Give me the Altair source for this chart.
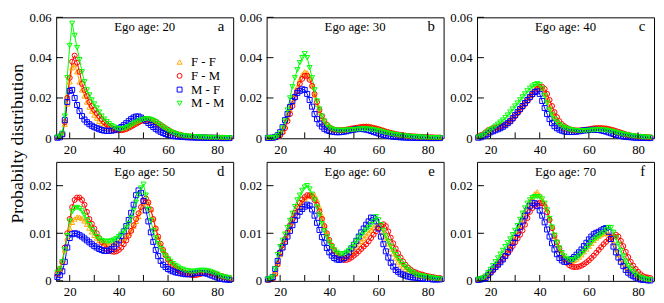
import altair as alt
import pandas as pd

# ---------------- data (probability values in units of 0.001) ----------------
AGE_START = 15
pairs = ["F - F", "F - M", "M - F", "M - M"]
colors = ["#ffa500", "#ff0000", "#0000ff", "#00ff00"]
shapes = ["triangle-up", "circle", "square", "triangle-down"]
ego_ages = [20, 30, 40, 50, 60, 70]
panel_letters = ["a", "b", "c", "d", "e", "f"]
x_tick_values = [20, 30, 40, 50, 60, 70, 80]
x_label_values = [20, 40, 60, 80]
top_y_ticks = [0, 0.02, 0.04, 0.06]
bottom_y_ticks = [0, 0.01, 0.02]
y_title = "Probabilty distribution"

a_ff = [0.5, 1, 2, 7, 17, 28, 35, 36.5, 33, 28,
        24, 21, 18, 15.5, 13.5, 11.5, 10, 8.5, 7.3, 6.3,
        5.5, 4.8, 4.3, 4.0, 3.9, 4.0, 4.2, 4.6, 5.1, 5.7,
        6.4, 7.0, 7.7, 8.3, 8.8, 9.1, 9.2, 9.0, 8.6, 8.0,
        7.3, 6.5, 5.7, 4.9, 4.2, 3.6, 3.0, 2.5, 2.1, 1.8,
        1.5, 1.3, 1.1, 1.0, 0.9, 0.8, 0.7, 0.6, 0.6, 0.5,
        0.5, 0.4, 0.4, 0.4, 0.3, 0.3, 0.3, 0.3, 0.2, 0.2, 0.2]
a_fm = [0.5, 1, 2, 8, 20, 30, 38, 41, 37.5, 33,
        27, 24, 21, 18, 16, 14, 12.5, 11, 9.5, 8,
        7, 6, 5.2, 4.6, 4.2, 4.0, 4.0, 4.2, 4.6, 5.2,
        5.8, 6.5, 7.2, 7.9, 8.5, 9.0, 9.3, 9.4, 9.2, 8.8,
        8.2, 7.4, 6.6, 5.8, 5.0, 4.2, 3.5, 2.9, 2.4, 2.0,
        1.7, 1.4, 1.2, 1.0, 0.9, 0.8, 0.7, 0.6, 0.6, 0.5,
        0.5, 0.4, 0.4, 0.4, 0.3, 0.3, 0.3, 0.3, 0.2, 0.2, 0.2]
a_mf = [0.3, 0.5, 2, 9, 18, 23.5, 24, 20, 16.5, 13.5,
        11, 9.3, 8, 7, 6.2, 5.5, 5.0, 4.5, 4.1, 3.8,
        3.7, 3.7, 3.8, 4.0, 4.4, 4.9, 5.6, 6.5, 7.5, 8.5,
        9.5, 10.3, 10.8, 10.8, 10.3, 9.5, 8.6, 7.6, 6.6, 5.6,
        4.7, 3.9, 3.2, 2.6, 2.1, 1.7, 1.4, 1.2, 1.0, 0.9,
        0.8, 0.7, 0.6, 0.5, 0.5, 0.4, 0.4, 0.3, 0.3, 0.3,
        0.3, 0.2, 0.2, 0.2, 0.2, 0.2, 0.1, 0.1, 0.1, 0.1, 0.1]
a_mm = [0.5, 1, 2.5, 11, 30, 46, 57, 51, 45, 39,
        33, 28, 24, 21.5, 19, 17, 15, 13, 11, 9.5,
        8.3, 7.2, 6.3, 5.6, 5.0, 4.6, 4.6, 4.8, 5.2, 5.8,
        6.5, 7.2, 7.9, 8.5, 9.0, 9.4, 9.6, 9.6, 9.3, 8.8,
        8.1, 7.3, 6.4, 5.5, 4.7, 3.9, 3.3, 2.7, 2.2, 1.8,
        1.5, 1.3, 1.1, 1.0, 0.9, 0.8, 0.7, 0.6, 0.6, 0.5,
        0.5, 0.4, 0.4, 0.4, 0.3, 0.3, 0.3, 0.3, 0.2, 0.2, 0.2]

b_ff = [0.2, 0.2, 0.3, 0.5, 1.0, 2.0, 3.5, 6, 10, 14,
        18, 22, 25.5, 29, 31.5, 33, 32.5, 30, 26, 21.5,
        17, 13, 10, 7.5, 6, 5, 4.5, 4.2, 4.1, 4.2,
        4.3, 4.5, 4.7, 4.9, 5.1, 5.3, 5.5, 5.7, 5.9, 6.1,
        6.2, 6.1, 5.9, 5.6, 5.3, 5.0, 4.6, 4.2, 3.8, 3.4,
        3.0, 2.6, 2.3, 2.0, 1.7, 1.5, 1.3, 1.1, 1.0, 0.9,
        0.8, 0.7, 0.6, 0.5, 0.5, 0.4, 0.4, 0.3, 0.3, 0.3, 0.2]
b_fm = [0.2, 0.2, 0.3, 0.4, 0.8, 1.5, 3, 5, 8.5, 12,
        16, 20, 23.5, 27, 29.5, 31, 31, 29, 26, 22,
        18, 14, 11, 8.5, 6.7, 5.5, 4.8, 4.3, 4.1, 4.0,
        4.0, 4.1, 4.3, 4.5, 4.8, 5.0, 5.2, 5.4, 5.6, 5.7,
        5.7, 5.6, 5.4, 5.1, 4.8, 4.5, 4.1, 3.7, 3.3, 3.0,
        2.7, 2.4, 2.1, 1.9, 1.7, 1.5, 1.3, 1.2, 1.1, 1.0,
        0.9, 0.8, 0.7, 0.7, 0.6, 0.6, 0.5, 0.5, 0.4, 0.4, 0.4]
b_mf = [0.2, 0.2, 0.3, 0.6, 1.5, 3, 5.5, 9, 12, 15.5,
        18.5, 20.5, 22.5, 23.5, 24.3, 24, 22, 19, 15.7, 12,
        9.5, 7.3, 5.8, 4.7, 4.0, 3.6, 3.3, 3.1, 3.0, 3.0,
        3.1, 3.3, 3.5, 3.8, 4.1, 4.3, 4.5, 4.6, 4.6, 4.5,
        4.3, 4.0, 3.6, 3.2, 2.8, 2.4, 2.0, 1.7, 1.4, 1.2,
        1.0, 0.8, 0.7, 0.6, 0.5, 0.4, 0.4, 0.3, 0.3, 0.3,
        0.2, 0.2, 0.2, 0.2, 0.2, 0.1, 0.1, 0.1, 0.1, 0.1, 0.1]
b_mm = [0.2, 0.2, 0.3, 0.5, 1.2, 2.5, 5, 8.5, 14, 20,
        25.5, 30, 34, 37.5, 40, 42, 40, 35, 30, 24,
        18.5, 14.5, 11, 8.5, 6.5, 5.3, 4.6, 4.2, 4.0, 3.9,
        3.9, 3.9, 4.0, 4.1, 4.2, 4.3, 4.4, 4.5, 4.6, 4.6,
        4.6, 4.5, 4.4, 4.2, 4.0, 3.7, 3.4, 3.1, 2.8, 2.5,
        2.2, 2.0, 1.8, 1.6, 1.4, 1.2, 1.1, 1.0, 0.9, 0.8,
        0.7, 0.6, 0.5, 0.5, 0.4, 0.4, 0.3, 0.3, 0.3, 0.2, 0.2]

c_ff = [0.5, 0.8, 1.2, 1.8, 2.6, 3.5, 4.2, 4.8, 5.3, 5.9,
        6.5, 7.3, 8.2, 9.3, 10.6, 12, 13.5, 15, 16.6, 18.3,
        20, 21.5, 23, 24.3, 25.5, 26, 25, 22.5, 19, 15.5,
        12.5, 10, 8, 6.6, 5.7, 5.0, 4.6, 4.3, 4.1, 4.0,
        4.0, 4.1, 4.2, 4.4, 4.6, 4.8, 5.0, 5.2, 5.4, 5.5,
        5.5, 5.4, 5.2, 4.9, 4.5, 4.1, 3.6, 3.1, 2.7, 2.3,
        2.0, 1.7, 1.4, 1.2, 1.0, 0.9, 0.8, 0.7, 0.6, 0.5, 0.5]
c_fm = [1, 1.5, 2, 3, 4, 4.5, 5, 5.3, 5.5, 5.8,
        6.2, 6.8, 7.5, 8.5, 9.5, 11, 12.5, 14, 15.5, 17,
        18.5, 20, 21.5, 23, 24.5, 25.5, 25.5, 24.5, 22, 19,
        16, 13, 10.5, 8.5, 7, 6, 5.2, 4.6, 4.2, 4.0,
        3.9, 3.9, 4.0, 4.1, 4.3, 4.5, 4.7, 4.9, 5.0, 5.0,
        5.0, 4.9, 4.8, 4.6, 4.3, 4.0, 3.6, 3.2, 2.8, 2.4,
        2.0, 1.7, 1.4, 1.2, 1.0, 0.9, 0.8, 0.7, 0.6, 0.5, 0.5]
c_mf = [0.3, 0.5, 1, 1.5, 2.2, 3, 3.5, 4, 4.5, 5,
        5.7, 6.5, 7.5, 8.5, 10, 11.5, 13, 14.5, 16, 17.5,
        19, 20.5, 22, 23, 23.3, 22, 18.5, 15, 12, 9.5,
        7.5, 6, 5, 4.3, 3.8, 3.4, 3.2, 3.1, 3.1, 3.2,
        3.3, 3.5, 3.7, 3.9, 4.0, 4.1, 4.2, 4.2, 4.2, 4.1,
        3.9, 3.6, 3.3, 2.9, 2.5, 2.1, 1.7, 1.4, 1.1, 0.9,
        0.7, 0.6, 0.5, 0.4, 0.3, 0.3, 0.2, 0.2, 0.2, 0.1, 0.1]
c_mm = [0.5, 1, 1.5, 2.5, 3.5, 4.3, 5, 6, 7, 8,
        9, 10.3, 11.5, 13, 14.5, 16, 17.5, 19, 20.5, 22,
        23.5, 24.8, 25.8, 26.6, 27, 26.5, 24.5, 21, 17.5, 14,
        11.5, 9.5, 8, 6.8, 6, 5.3, 4.8, 4.4, 4.1, 3.9,
        3.8, 3.7, 3.7, 3.7, 3.8, 3.9, 4.0, 4.1, 4.2, 4.2,
        4.2, 4.1, 4.0, 3.8, 3.5, 3.2, 2.9, 2.6, 2.3, 2.0,
        1.8, 1.5, 1.3, 1.1, 1.0, 0.8, 0.7, 0.6, 0.5, 0.5, 0.4]

d_ff = [1.5, 2.5, 4, 6.5, 9, 11, 12.3, 13, 13.4, 13.4,
        13.1, 12.6, 11.9, 11.1, 10.3, 9.6, 9.0, 8.5, 8.1, 7.9,
        7.8, 7.7, 7.7, 7.8, 8.0, 8.2, 8.5, 8.9, 9.4, 10,
        10.7, 11.5, 12.5, 13.5, 14.7, 15.7, 16.4, 16.5, 15, 13,
        11, 9.2, 7.7, 6.5, 5.5, 4.7, 4.0, 3.5, 3.0, 2.7,
        2.4, 2.1, 1.9, 1.8, 1.7, 1.6, 1.6, 1.7, 1.8, 1.8,
        1.8, 1.8, 1.7, 1.6, 1.4, 1.2, 1.0, 0.9, 0.7, 0.6, 0.5]
d_fm = [1.5, 2.5, 4, 7, 10, 13, 15.5, 17, 17.5, 17.5,
        17, 16, 14.5, 13, 12, 11, 10, 9, 8.2, 7.3,
        6.7, 6.3, 6.2, 6.1, 6.2, 6.5, 7, 7.7, 8.5, 9.5,
        10.5, 11.7, 13, 14.2, 15.5, 16.8, 17.3, 16.5, 15, 13,
        11, 9.3, 7.8, 6.5, 5.4, 4.5, 3.8, 3.2, 2.8, 2.4,
        2.1, 1.8, 1.6, 1.4, 1.3, 1.2, 1.2, 1.3, 1.4, 1.6,
        1.7, 1.8, 1.8, 1.7, 1.5, 1.3, 1.1, 1.0, 0.8, 0.7, 0.6]
d_mf = [0.8, 1.2, 2, 4, 7, 9, 9.8, 10, 9.9, 9.6,
        9.3, 8.9, 8.5, 8.1, 7.7, 7.3, 7.0, 6.7, 6.5, 6.3,
        6.3, 6.4, 6.7, 7.2, 7.8, 8.5, 9.4, 10.4, 11.5, 12.8,
        14.3, 16, 18, 19, 18.5, 16.8, 14.8, 12.5, 10.2, 8.2,
        6.5, 5.2, 4.2, 3.4, 2.9, 2.5, 2.2, 2.0, 1.8, 1.7,
        1.6, 1.5, 1.4, 1.4, 1.4, 1.5, 1.6, 1.7, 1.7, 1.7,
        1.6, 1.5, 1.3, 1.1, 0.9, 0.7, 0.5, 0.4, 0.3, 0.3, 0.2]
d_mm = [1.8, 2.5, 4, 6.5, 9.5, 12.5, 14.5, 15.2, 15.4, 15.2,
        14.7, 13.8, 12.8, 11.8, 10.8, 10, 9.3, 8.8, 8.5, 8.3,
        8.3, 8.3, 8.4, 8.6, 8.9, 9.3, 9.8, 10.4, 11.1, 12,
        13.2, 14.8, 16.5, 18, 19.5, 20.3, 18, 15, 12.7, 10.5,
        9, 7.8, 6.8, 6, 5.2, 4.6, 4.1, 3.6, 3.2, 2.9,
        2.6, 2.4, 2.2, 2.1, 2.0, 2.0, 2.0, 2.1, 2.2, 2.2,
        2.2, 2.1, 2.0, 1.8, 1.6, 1.4, 1.1, 0.9, 0.8, 0.7, 0.6]

e_ff = [0.2, 0.3, 0.5, 1.5, 3.5, 5.5, 7, 8.3, 9.7, 11,
        12.3, 13.5, 14.7, 15.7, 16.5, 17.2, 17.7, 18, 18.2, 18,
        17, 15.5, 13.7, 11.8, 10, 8.5, 7.3, 6.3, 5.6, 5.2,
        5.0, 5.0, 5.2, 5.5, 6.0, 6.5, 7.1, 7.7, 8.3, 8.9,
        9.5, 10.1, 10.7, 11.2, 11.6, 11.7, 11.2, 10.2, 9.0, 7.8,
        6.7, 5.7, 4.8, 4.0, 3.4, 2.9, 2.4, 2.0, 1.7, 1.5,
        1.3, 1.2, 1.1, 1.0, 0.9, 0.8, 0.7, 0.6, 0.5, 0.5, 0.4]
e_fm = [0.2, 0.3, 0.5, 1.5, 3.5, 6, 7.5, 8.8, 10.2, 11.7,
        13, 14.3, 15.5, 16.4, 17.1, 17.6, 18, 18, 17.7, 17,
        16, 14.6, 13, 11.5, 10, 8.6, 7.4, 6.4, 5.7, 5.1,
        4.7, 4.4, 4.4, 4.6, 4.9, 5.3, 5.7, 6.2, 6.7, 7.2,
        7.7, 8.3, 9, 9.7, 10.4, 11.0, 11.6, 11.9, 11.5, 10.4,
        9.1, 7.9, 6.8, 5.8, 4.9, 4.1, 3.4, 2.8, 2.4, 2.0,
        1.8, 1.6, 1.4, 1.3, 1.1, 1.0, 0.9, 0.8, 0.7, 0.6, 0.6]
e_mf = [0.3, 0.4, 0.8, 2.5, 4.2, 5.8, 7, 8.2, 9.3, 10.5,
        11.7, 12.8, 13.7, 14.5, 15.1, 15.6, 16, 15.8, 15, 13.7,
        12.2, 10.7, 9.2, 8, 6.9, 6, 5.3, 4.8, 4.5, 4.4,
        4.5, 4.8, 5.3, 6.0, 6.8, 7.6, 8.4, 9.3, 10.2, 11,
        11.8, 12.5, 13.3, 13.2, 12.5, 11, 9.3, 7.7, 6.2, 4.9,
        3.8, 3.0, 2.3, 1.9, 1.5, 1.3, 1.1, 0.9, 0.8, 0.7,
        0.7, 0.6, 0.5, 0.5, 0.4, 0.4, 0.4, 0.3, 0.3, 0.3, 0.3]
e_mm = [0.3, 0.5, 0.8, 2.5, 5.5, 7.2, 8.5, 9.8, 11.2, 12.7,
        14.2, 15.6, 17, 18, 19, 19.7, 20, 19.3, 18.2, 17,
        15.5, 13.8, 12, 10.5, 9.2, 8.1, 7.2, 6.5, 6.0, 5.7,
        5.6, 5.7, 6.0, 6.4, 7.0, 7.6, 8.3, 9.0, 9.6, 10.2,
        10.7, 11.2, 11.8, 12.5, 13.5, 12.8, 11.8, 10.6, 9.4, 8.3,
        7.3, 6.4, 5.5, 4.7, 4.0, 3.4, 2.9, 2.4, 2.0, 1.7,
        1.4, 1.2, 1.1, 1.0, 0.9, 0.8, 0.7, 0.6, 0.5, 0.5, 0.4]

f_ff = [0.3, 0.4, 0.6, 0.9, 1.4, 2.0, 2.6, 3.2, 3.8, 4.4,
        5.0, 5.7, 6.5, 7.4, 8.4, 9.4, 10.5, 11.7, 13.0, 14.3,
        15.6, 16.7, 17.6, 18.3, 18.7, 18.0, 17.0, 16.2, 15.0, 13.2,
        11.2, 9.3, 7.7, 6.4, 5.4, 4.7, 4.3, 4.1, 4.1, 4.3,
        4.6, 5.0, 5.5, 6.1, 6.7, 7.3, 7.9, 8.5, 9.0, 9.4,
        9.7, 9.9, 10.0, 9.9, 9.2, 8.0, 6.7, 5.5, 4.5, 3.6,
        2.9, 2.3, 1.8, 1.4, 1.1, 0.8, 0.6, 0.5, 0.4, 0.3, 0.3]
f_fm = [0.3, 0.4, 0.6, 0.8, 1.2, 1.7, 2.2, 2.8, 3.4, 4.0,
        4.6, 5.2, 5.8, 6.5, 7.3, 8.1, 8.9, 9.7, 10.6, 11.8,
        13.2, 14.5, 15.3, 15.9, 16.2, 16.4, 16.3, 15.6, 14.4, 12.8,
        11.1, 9.5, 8.1, 6.8, 5.6, 4.6, 3.8, 3.3, 3.0, 2.9,
        2.9, 3.0, 3.2, 3.5, 3.9, 4.3, 4.8, 5.3, 5.9, 6.5,
        7.1, 7.7, 8.2, 8.7, 9.1, 9.4, 9.7, 9.3, 8.4, 7.3,
        6.1, 5.0, 4.0, 3.2, 2.5, 1.9, 1.4, 1.0, 0.8, 0.7, 0.6]
f_mf = [0.2, 0.3, 0.4, 0.6, 1.2, 1.8, 2.4, 2.9, 3.4, 3.9,
        4.5, 5.2, 6.1, 7.0, 8.0, 9.0, 10.1, 11.3, 12.5, 13.7,
        14.8, 15.8, 16.4, 16.3, 15.7, 14.8, 13.7, 12.3, 10.8, 9.3,
        7.9, 6.6, 5.6, 4.8, 4.3, 4.0, 4.0, 4.2, 4.6, 5.0,
        5.5, 6.0, 6.6, 7.3, 8.0, 8.7, 9.3, 9.8, 10.1, 10.3,
        10.6, 10.9, 11.1, 10.3, 8.8, 7.2, 6.0, 4.9, 4.0, 3.1,
        2.3, 1.7, 1.3, 1.0, 0.7, 0.5, 0.3, 0.2, 0.2, 0.1, 0.1]
f_mm = [0.3, 0.4, 0.6, 1.0, 1.7, 2.4, 3.2, 4.0, 4.8, 5.6,
        6.4, 7.2, 8.0, 8.8, 9.7, 10.6, 11.6, 12.9, 14.2, 15.3,
        16.3, 17.0, 17.5, 17.7, 17.7, 17.6, 17.2, 16.3, 14.9, 13.1,
        11.3, 9.6, 8.1, 6.9, 5.9, 5.2, 4.7, 4.4, 4.3, 4.5,
        4.8, 5.2, 5.7, 6.2, 6.8, 7.4, 8.0, 8.6, 9.0, 9.4,
        9.8, 10.2, 10.7, 11.2, 11.2, 10.2, 9.0, 7.7, 6.4, 5.2,
        4.1, 3.2, 2.5, 1.9, 1.4, 1.0, 0.7, 0.5, 0.4, 0.3, 0.2]

panel_series = [
    [a_ff, a_fm, a_mf, a_mm],
    [b_ff, b_fm, b_mf, b_mm],
    [c_ff, c_fm, c_mf, c_mm],
    [d_ff, d_fm, d_mf, d_mm],
    [e_ff, e_fm, e_mf, e_mm],
    [f_ff, f_fm, f_mf, f_mm],
]

# ---------------- styling ----------------
FONT = "Liberation Serif"
W = 180
H_TOP = 123
H_BOT = 121
X_DOMAIN = [14.5, 86.5]
LABEL_EXPR = "datum.value == 0 ? '0' : format(datum.value, '.2f')"


def make_panel(i, ymax, yticks, height):
    rows = []
    for pair, vals in zip(pairs, panel_series[i]):
        for k, v in enumerate(vals):
            rows.append({"age": AGE_START + k, "p": v / 1000.0, "pair": pair})
    df = pd.DataFrame(rows)

    xs = alt.Scale(domain=X_DOMAIN, nice=False, zero=False)
    ys = alt.Scale(domain=[0, ymax], nice=False, zero=False)

    x_axis = alt.Axis(values=x_label_values, ticks=False, domain=False, grid=False,
                      labelPadding=5, title=None)
    if i == 3:
        y_axis = alt.Axis(values=yticks, ticks=False, domain=False, grid=False,
                          labelPadding=5, labelExpr=LABEL_EXPR,
                          title=y_title, titleY=-19, titlePadding=2)
    else:
        y_axis = alt.Axis(values=yticks, ticks=False, domain=False, grid=False,
                          labelPadding=5, labelExpr=LABEL_EXPR, title=None)

    if i == 0:
        leg = alt.Legend(orient="none", legendX=119, legendY=39, title=None,
                         labelFont=FONT, labelFontSize=13, labelColor="black",
                         symbolSize=25, symbolStrokeWidth=1, rowPadding=0,
                         labelOffset=5, padding=0)
    else:
        leg = None

    X = alt.X("age:Q", scale=xs, axis=x_axis)
    Y = alt.Y("p:Q", scale=ys, axis=y_axis)

    lines = alt.Chart(df).mark_line(strokeWidth=1).encode(
        x=X, y=Y,
        stroke=alt.Stroke("pair:N", scale=alt.Scale(domain=pairs, range=colors), legend=None),
    )
    points = alt.Chart(df).mark_point(filled=False, size=26, strokeWidth=1, opacity=1).encode(
        x=X, y=Y,
        color=alt.Color("pair:N", scale=alt.Scale(domain=pairs, range=colors), legend=leg),
        shape=alt.Shape("pair:N", scale=alt.Scale(domain=pairs, range=shapes), legend=leg),
    )
    xt = alt.Chart(pd.DataFrame({"age": x_tick_values})).mark_rule(color="black", strokeWidth=1).encode(
        x=X,
        y=alt.value(height),
        y2=alt.value(height - 6),
    )
    yt = alt.Chart(pd.DataFrame({"p": yticks})).mark_rule(color="black", strokeWidth=1).encode(
        y=Y,
        x=alt.value(0),
        x2=alt.value(7),
    )
    ego = alt.Chart(pd.DataFrame({"label": ["Ego age: " + str(ego_ages[i])]})).mark_text(
        font=FONT, fontSize=13, color="black", align="center", baseline="alphabetic"
    ).encode(x=alt.value(W / 2), y=alt.value(14), text="label:N")
    letter = alt.Chart(pd.DataFrame({"label": [panel_letters[i]]})).mark_text(
        font=FONT, fontSize=15, color="black", align="right", baseline="alphabetic"
    ).encode(x=alt.value(W - 9), y=alt.value(14), text="label:N")

    return alt.layer(lines, points, xt, yt, ego, letter).properties(width=W, height=height)


panels = [make_panel(i, 0.06, top_y_ticks, H_TOP) for i in range(3)] + \
         [make_panel(i, 0.025, bottom_y_ticks, H_BOT) for i in range(3, 6)]

chart = alt.concat(
    *panels, columns=3, spacing={"row": 24, "column": 34}, bounds="flush"
).resolve_legend(
    color="independent", shape="independent"
).properties(
    padding={"left": 0, "top": 0, "right": 0, "bottom": 0}
).configure_view(
    stroke="black", strokeWidth=1
).configure_axis(
    labelFont=FONT, labelFontSize=13, labelColor="black",
    titleFont=FONT, titleFontSize=18, titleColor="black", titleFontWeight="normal"
)

chart.save("out.html", embed_options={"renderer": "svg", "actions": False})
